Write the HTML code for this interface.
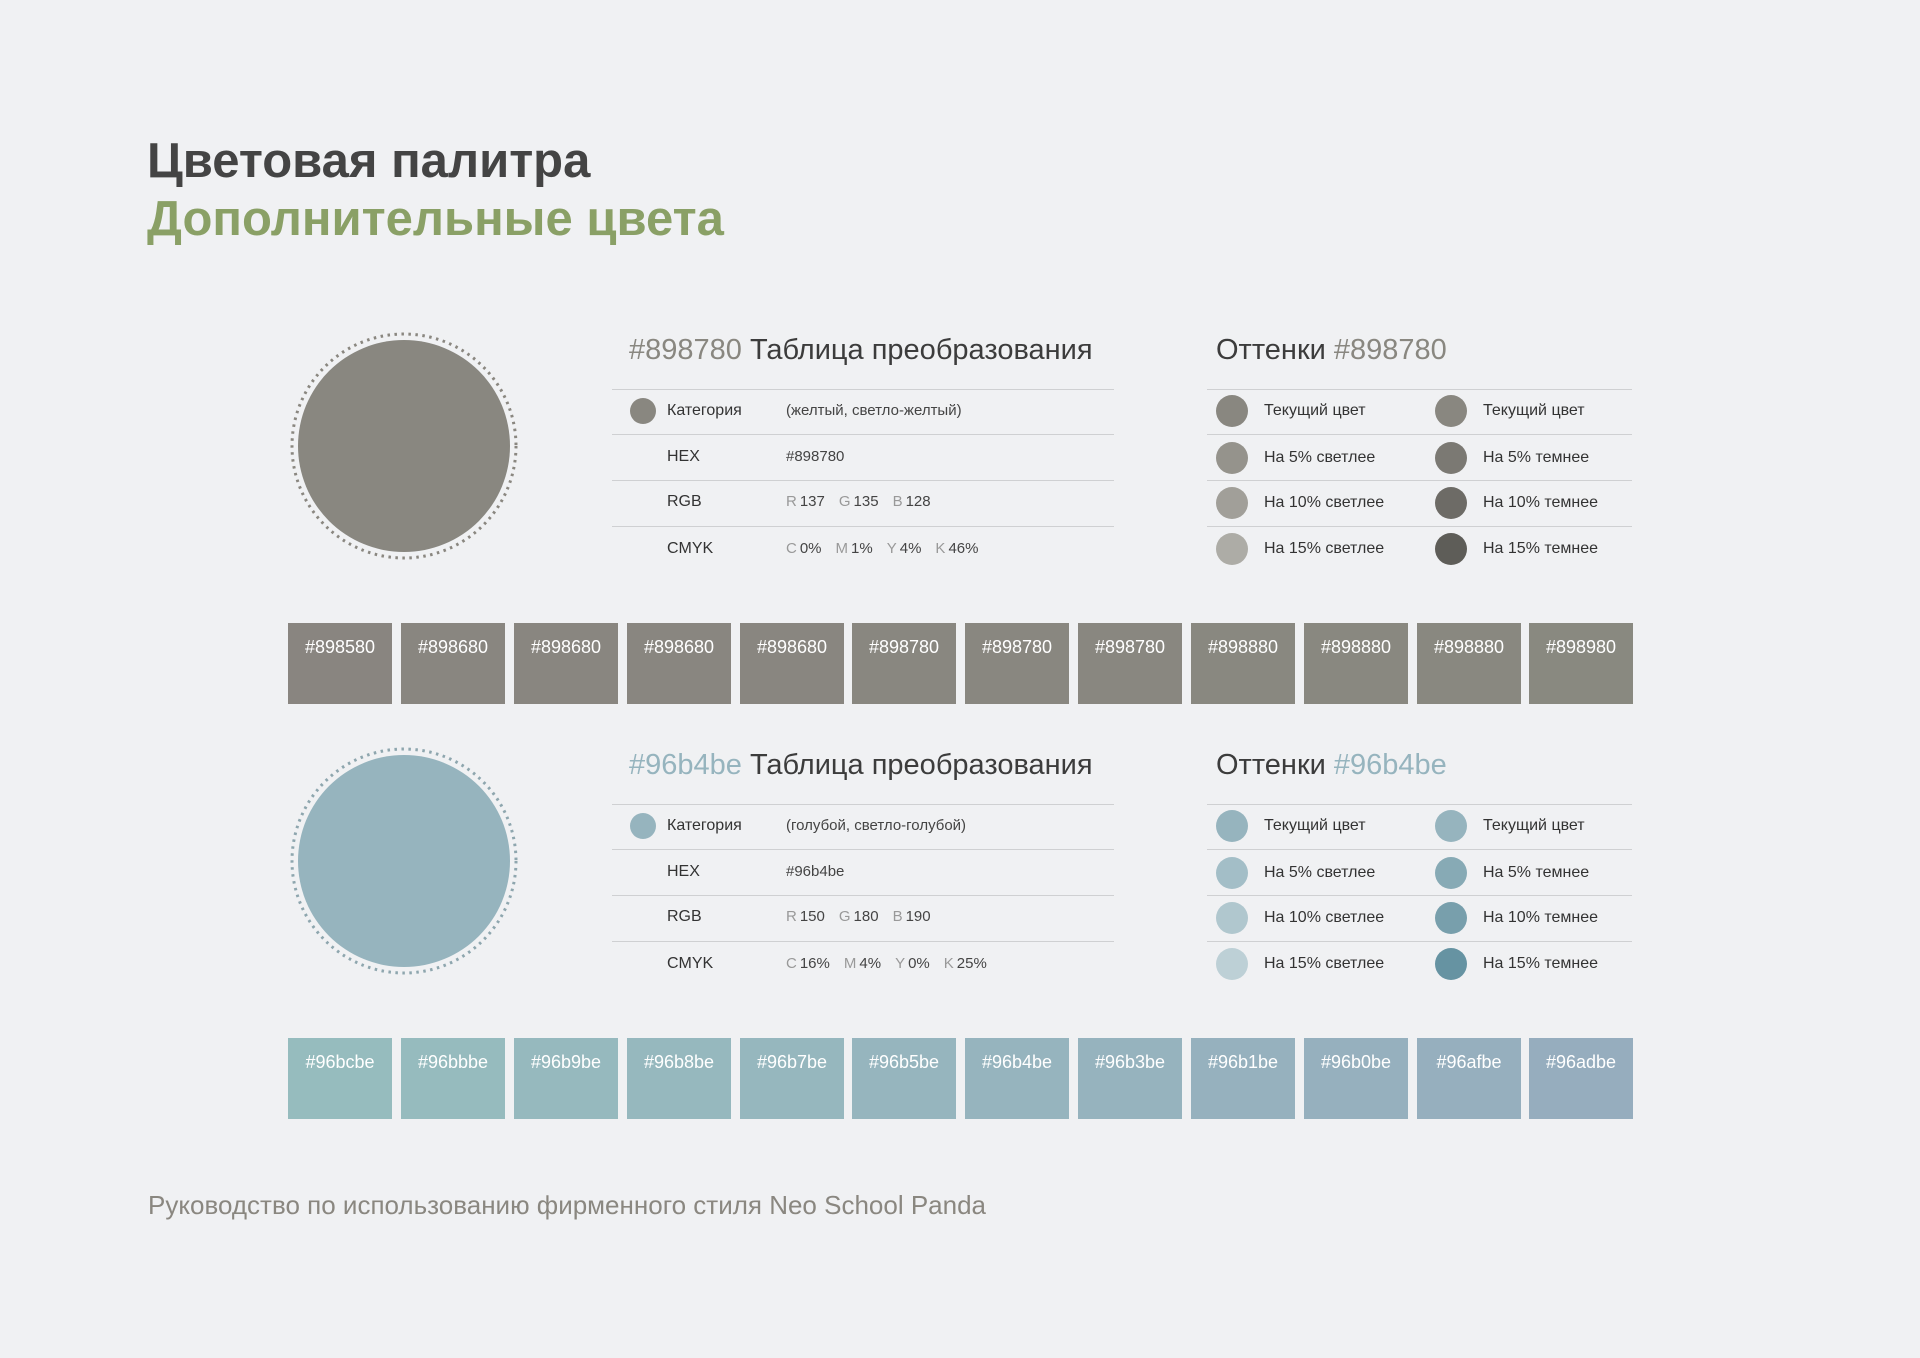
<!DOCTYPE html>
<html><head><meta charset="utf-8"><style>
*{margin:0;padding:0;box-sizing:border-box}
body{width:1920px;height:1358px;background:#f0f1f3;position:relative;overflow:hidden;font-family:"Liberation Sans","DejaVu Sans",sans-serif}
.a{position:absolute;white-space:nowrap}
.h1{left:147px;font-size:49px;font-weight:bold;line-height:60px}
.t{font-size:29px;color:#3c3c3c;line-height:36px}
.ln{position:absolute;height:1px;background:#cfd0d2}
.r{font-size:16px;line-height:20px;color:#333}
.v{font-size:15px;line-height:20px;color:#444}
.v span{color:#999;margin-right:3px}
.v b{font-weight:normal;margin-right:14px}
.dot{position:absolute;border-radius:50%}
.sw{position:absolute;width:104px;height:81px;color:#fff;font-size:18px;text-align:center;padding-top:14px}
</style></head><body>
<div class="a h1" style="top:131px;color:#444">Цветовая палитра</div>
<div class="a h1" style="top:189px;color:#8aa066">Дополнительные цвета</div>

<!-- block 1 -->
<svg class="a" style="left:290px;top:332px" width="228" height="228"><circle cx="114" cy="114" r="112" fill="none" stroke="#8a8780" stroke-width="3" stroke-dasharray="2.5 4.5"/></svg>
<div class="dot" style="left:298px;top:340px;width:212px;height:212px;background:#898780"></div>

<div class="a t" style="left:629px;top:332px"><span style="color:#898780">#898780</span> Таблица преобразования</div>
<div class="ln" style="left:612px;top:389px;width:502px"></div>
<div class="ln" style="left:612px;top:434px;width:502px"></div>
<div class="ln" style="left:612px;top:480px;width:502px"></div>
<div class="ln" style="left:612px;top:526px;width:502px"></div>
<div class="dot" style="left:630px;top:398px;width:26px;height:26px;background:#898780"></div>
<div class="a r" style="left:667px;top:401px">Категория</div>
<div class="a v" style="left:786px;top:401px">(желтый, светло-желтый)</div>
<div class="a r" style="left:667px;top:447px">HEX</div>
<div class="a v" style="left:786px;top:447px">#898780</div>
<div class="a r" style="left:667px;top:492px">RGB</div>
<div class="a v" style="left:786px;top:492px"><span>R</span><b>137</b><span>G</span><b>135</b><span>B</span><b>128</b></div>
<div class="a r" style="left:667px;top:539px">CMYK</div>
<div class="a v" style="left:786px;top:539px"><span>C</span><b>0%</b><span>M</span><b>1%</b><span>Y</span><b>4%</b><span>K</span><b>46%</b></div>

<div class="a t" style="left:1216px;top:332px">Оттенки <span style="color:#898780">#898780</span></div>
<div class="ln" style="left:1207px;top:389px;width:425px"></div>
<div class="ln" style="left:1207px;top:434px;width:425px"></div>
<div class="ln" style="left:1207px;top:480px;width:425px"></div>
<div class="ln" style="left:1207px;top:526px;width:425px"></div>
<div class="dot" style="left:1216px;top:395px;width:32px;height:32px;background:#898780"></div>
<div class="dot" style="left:1216px;top:442px;width:32px;height:32px;background:#95938c"></div>
<div class="dot" style="left:1216px;top:487px;width:32px;height:32px;background:#a19f99"></div>
<div class="dot" style="left:1216px;top:533px;width:32px;height:32px;background:#adaca6"></div>
<div class="dot" style="left:1435px;top:395px;width:32px;height:32px;background:#898780"></div>
<div class="dot" style="left:1435px;top:442px;width:32px;height:32px;background:#7b7973"></div>
<div class="dot" style="left:1435px;top:487px;width:32px;height:32px;background:#6d6b66"></div>
<div class="dot" style="left:1435px;top:533px;width:32px;height:32px;background:#5e5d58"></div>
<div class="a r" style="left:1264px;top:401px">Текущий цвет</div>
<div class="a r" style="left:1264px;top:448px">На 5% светлее</div>
<div class="a r" style="left:1264px;top:493px">На 10% светлее</div>
<div class="a r" style="left:1264px;top:539px">На 15% светлее</div>
<div class="a r" style="left:1483px;top:401px">Текущий цвет</div>
<div class="a r" style="left:1483px;top:448px">На 5% темнее</div>
<div class="a r" style="left:1483px;top:493px">На 10% темнее</div>
<div class="a r" style="left:1483px;top:539px">На 15% темнее</div>

<div class="sw" style="left:288px;top:623px;background:#898580">#898580</div>
<div class="sw" style="left:401px;top:623px;background:#898680">#898680</div>
<div class="sw" style="left:514px;top:623px;background:#898680">#898680</div>
<div class="sw" style="left:627px;top:623px;background:#898680">#898680</div>
<div class="sw" style="left:740px;top:623px;background:#898680">#898680</div>
<div class="sw" style="left:852px;top:623px;background:#898780">#898780</div>
<div class="sw" style="left:965px;top:623px;background:#898780">#898780</div>
<div class="sw" style="left:1078px;top:623px;background:#898780">#898780</div>
<div class="sw" style="left:1191px;top:623px;background:#898880">#898880</div>
<div class="sw" style="left:1304px;top:623px;background:#898880">#898880</div>
<div class="sw" style="left:1417px;top:623px;background:#898880">#898880</div>
<div class="sw" style="left:1529px;top:623px;background:#898980">#898980</div>

<!-- block 2 -->
<svg class="a" style="left:290px;top:747px" width="228" height="228"><circle cx="114" cy="114" r="112" fill="none" stroke="#8ea6ae" stroke-width="3" stroke-dasharray="2.5 4.5"/></svg>
<div class="dot" style="left:298px;top:755px;width:212px;height:212px;background:#96b4be"></div>

<div class="a t" style="left:629px;top:747px"><span style="color:#96b4be">#96b4be</span> Таблица преобразования</div>
<div class="ln" style="left:612px;top:804px;width:502px"></div>
<div class="ln" style="left:612px;top:849px;width:502px"></div>
<div class="ln" style="left:612px;top:895px;width:502px"></div>
<div class="ln" style="left:612px;top:941px;width:502px"></div>
<div class="dot" style="left:630px;top:813px;width:26px;height:26px;background:#96b4be"></div>
<div class="a r" style="left:667px;top:816px">Категория</div>
<div class="a v" style="left:786px;top:816px">(голубой, светло-голубой)</div>
<div class="a r" style="left:667px;top:862px">HEX</div>
<div class="a v" style="left:786px;top:862px">#96b4be</div>
<div class="a r" style="left:667px;top:907px">RGB</div>
<div class="a v" style="left:786px;top:907px"><span>R</span><b>150</b><span>G</span><b>180</b><span>B</span><b>190</b></div>
<div class="a r" style="left:667px;top:954px">CMYK</div>
<div class="a v" style="left:786px;top:954px"><span>C</span><b>16%</b><span>M</span><b>4%</b><span>Y</span><b>0%</b><span>K</span><b>25%</b></div>

<div class="a t" style="left:1216px;top:747px">Оттенки <span style="color:#96b4be">#96b4be</span></div>
<div class="ln" style="left:1207px;top:804px;width:425px"></div>
<div class="ln" style="left:1207px;top:849px;width:425px"></div>
<div class="ln" style="left:1207px;top:895px;width:425px"></div>
<div class="ln" style="left:1207px;top:941px;width:425px"></div>
<div class="dot" style="left:1216px;top:810px;width:32px;height:32px;background:#96b4be"></div>
<div class="dot" style="left:1216px;top:857px;width:32px;height:32px;background:#a3bec7"></div>
<div class="dot" style="left:1216px;top:902px;width:32px;height:32px;background:#b0c7ce"></div>
<div class="dot" style="left:1216px;top:948px;width:32px;height:32px;background:#bdd0d6"></div>
<div class="dot" style="left:1435px;top:810px;width:32px;height:32px;background:#96b4be"></div>
<div class="dot" style="left:1435px;top:857px;width:32px;height:32px;background:#87aab5"></div>
<div class="dot" style="left:1435px;top:902px;width:32px;height:32px;background:#789fac"></div>
<div class="dot" style="left:1435px;top:948px;width:32px;height:32px;background:#6693a2"></div>
<div class="a r" style="left:1264px;top:816px">Текущий цвет</div>
<div class="a r" style="left:1264px;top:863px">На 5% светлее</div>
<div class="a r" style="left:1264px;top:908px">На 10% светлее</div>
<div class="a r" style="left:1264px;top:954px">На 15% светлее</div>
<div class="a r" style="left:1483px;top:816px">Текущий цвет</div>
<div class="a r" style="left:1483px;top:863px">На 5% темнее</div>
<div class="a r" style="left:1483px;top:908px">На 10% темнее</div>
<div class="a r" style="left:1483px;top:954px">На 15% темнее</div>

<div class="sw" style="left:288px;top:1038px;background:#96bcbe">#96bcbe</div>
<div class="sw" style="left:401px;top:1038px;background:#96bbbe">#96bbbe</div>
<div class="sw" style="left:514px;top:1038px;background:#96b9be">#96b9be</div>
<div class="sw" style="left:627px;top:1038px;background:#96b8be">#96b8be</div>
<div class="sw" style="left:740px;top:1038px;background:#96b7be">#96b7be</div>
<div class="sw" style="left:852px;top:1038px;background:#96b5be">#96b5be</div>
<div class="sw" style="left:965px;top:1038px;background:#96b4be">#96b4be</div>
<div class="sw" style="left:1078px;top:1038px;background:#96b3be">#96b3be</div>
<div class="sw" style="left:1191px;top:1038px;background:#96b1be">#96b1be</div>
<div class="sw" style="left:1304px;top:1038px;background:#96b0be">#96b0be</div>
<div class="sw" style="left:1417px;top:1038px;background:#96afbe">#96afbe</div>
<div class="sw" style="left:1529px;top:1038px;background:#96adbe">#96adbe</div>

<div class="a" style="left:148px;top:1190px;font-size:26px;line-height:30px;color:#8a8780">Руководство по использованию фирменного стиля Neo School Panda</div>
</body></html>
